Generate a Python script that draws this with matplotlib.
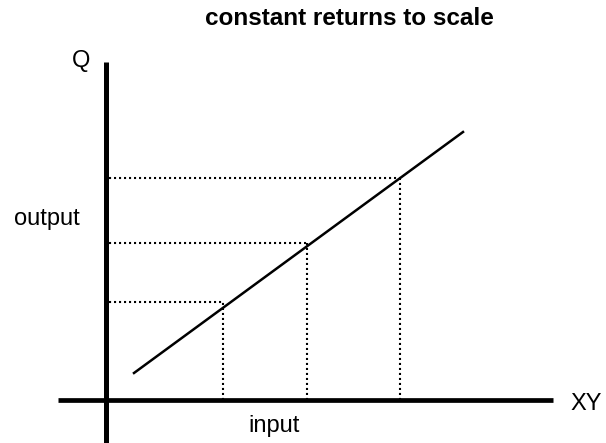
import matplotlib
matplotlib.use("Agg")
import matplotlib.pyplot as plt

# schematic data (units relative to origin)
inputs = [117, 201, 294]
outputs = [98, 157, 222]
line_x = [28, 357]
line_y = [27, 268]

title = "constant returns to scale"

plt.rcParams['font.family'] = ['Liberation Sans', 'DejaVu Sans']

fig = plt.figure(figsize=(6.06, 4.43), dpi=100)
ax = fig.add_axes([0, 0, 1, 1])
ax.set_xlim(-106, 500)
ax.set_ylim(-43, 400)
ax.axis('off')

# axes
ax.plot([0, 0], [-43, 338], color='black', lw=3.6, solid_capstyle='butt')
ax.plot([-48, 447], [0, 0], color='black', lw=3.4, solid_capstyle='butt')

# dotted guides
for xi, yi in zip(inputs, outputs):
    ax.plot([3, xi], [yi, yi], color='black', lw=1.5, linestyle=(0, (1.0, 1.4)))
    ax.plot([xi, xi], [0, yi], color='black', lw=1.5, linestyle=(0, (1.0, 1.4)))

# production line
ax.plot(line_x, line_y, color='black', lw=1.8)

ax.text(243, 382, title, ha='center', va='center', fontsize=17.5, fontweight='bold')
ax.text(-25, 333, "Q", ha='center', va='baseline', fontsize=17)
ax.text(-59, 175, "output", ha='center', va='baseline', fontsize=17)
ax.text(168, -32, "input", ha='center', va='baseline', fontsize=17)
ax.text(480, -10, "XY", ha='center', va='baseline', fontsize=17)

fig.savefig("out.png", dpi=100)
